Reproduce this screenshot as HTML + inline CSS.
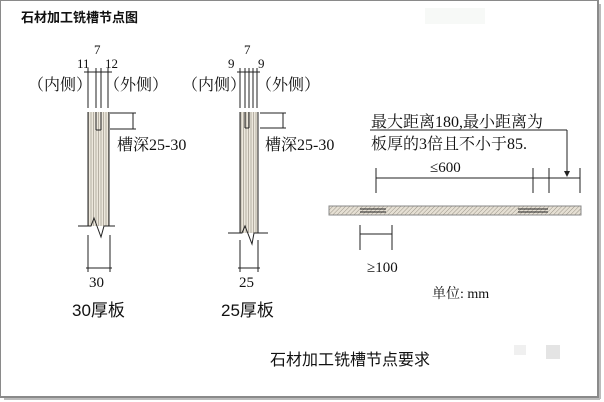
<!DOCTYPE html>
<html><head><meta charset="utf-8"><style>
html,body{margin:0;padding:0;background:#fff;width:604px;height:402px;overflow:hidden}
svg{display:block}
text{font-family:"Liberation Serif","Noto Serif CJK SC",serif;fill:#111}
.s{font-family:"Liberation Sans","Noto Sans CJK SC",sans-serif}
</style></head><body>
<svg width="604" height="402" viewBox="0 0 604 402">
<defs>
<pattern id="h" width="3" height="3" patternUnits="userSpaceOnUse" patternTransform="rotate(45)">
<rect width="3" height="3" fill="#e6e0d4"/><line x1="0" y1="0" x2="0" y2="3" stroke="#9a9488" stroke-width="1"/></pattern>
<pattern id="v" width="2.5" height="4" patternUnits="userSpaceOnUse">
<rect width="2.5" height="4" fill="#ece7dc"/><line x1="1" y1="0" x2="1" y2="4" stroke="#a8a296" stroke-width="0.8"/></pattern>
</defs>
<rect x="0" y="0" width="598" height="397" fill="#fff" stroke="#8a8a8a" stroke-width="2"/>
<line x1="600" y1="4" x2="600" y2="399" stroke="#bbb" stroke-width="2"/>
<line x1="4" y1="399" x2="600" y2="399" stroke="#bbb" stroke-width="2"/>
<text x="21" y="22" class="s" font-size="13" font-weight="bold" fill="#333">石材加工铣槽节点图</text>
<rect x="425" y="8" width="60" height="16" fill="#f7f9f7"/>

<g stroke="#222" stroke-width="1" fill="none">
<rect x="88" y="112" width="21" height="114" fill="url(#v)" stroke="none"/>
<line x1="88" y1="68" x2="88" y2="108"/><line x1="96" y1="68" x2="96" y2="108"/>
<line x1="101" y1="68" x2="101" y2="108"/><line x1="108" y1="68" x2="108" y2="108"/>
<line x1="84" y1="72" x2="112" y2="72"/>
<line x1="88" y1="112" x2="88" y2="226"/><line x1="109" y1="112" x2="109" y2="226"/>
<line x1="96" y1="112" x2="96" y2="130"/><line x1="101" y1="112" x2="101" y2="130"/><line x1="96" y1="130" x2="101" y2="130"/>
<polyline points="78,226 91,226 94,218 101,237 104,226 115,226"/>
<line x1="110" y1="113" x2="136" y2="113"/><line x1="110" y1="129" x2="136" y2="129"/><line x1="133" y1="113" x2="133" y2="129"/>
<line x1="88" y1="235" x2="88" y2="272"/><line x1="110" y1="235" x2="110" y2="272"/><line x1="86" y1="268" x2="112" y2="268"/>
<rect x="240" y="112" width="18" height="121" fill="url(#v)" stroke="none"/>
<line x1="240" y1="68" x2="240" y2="108"/><line x1="245" y1="68" x2="245" y2="108"/><line x1="249" y1="68" x2="249" y2="108"/>
<line x1="253" y1="68" x2="253" y2="108"/><line x1="257" y1="68" x2="257" y2="108"/>
<line x1="237" y1="72" x2="260" y2="72"/>
<line x1="240" y1="112" x2="240" y2="233"/><line x1="258" y1="112" x2="258" y2="233"/>
<line x1="245" y1="112" x2="245" y2="128"/><line x1="249" y1="112" x2="249" y2="128"/><line x1="245" y1="128" x2="249" y2="128"/>
<polyline points="228,233 242,233 245,226 252,244 254,233 268,233"/>
<line x1="260" y1="113" x2="286" y2="113"/><line x1="260" y1="128" x2="286" y2="128"/><line x1="283" y1="113" x2="283" y2="128"/>
<line x1="240" y1="240" x2="240" y2="272"/><line x1="258" y1="240" x2="258" y2="272"/><line x1="238" y1="268" x2="260" y2="268"/>
<line x1="370" y1="130" x2="567" y2="130"/><line x1="567" y1="130" x2="567" y2="175"/>
<line x1="376" y1="178" x2="580" y2="178"/>
<line x1="376" y1="168" x2="376" y2="193"/><line x1="533" y1="168" x2="533" y2="193"/>
<line x1="549" y1="168" x2="549" y2="193"/><line x1="580" y1="168" x2="580" y2="193"/>
<rect x="329" y="206" width="252" height="9" fill="url(#h)" stroke="#888"/>
<line x1="360" y1="209" x2="386" y2="209"/><line x1="360" y1="212" x2="386" y2="212"/>
<line x1="518" y1="209" x2="548" y2="209"/><line x1="518" y1="212" x2="548" y2="212"/>
<line x1="360" y1="225" x2="360" y2="250"/><line x1="392" y1="225" x2="392" y2="250"/><line x1="360" y1="234" x2="392" y2="234"/>
</g>
<polygon points="564,171 570,171 567,177" fill="#222"/>

<text x="77" y="68" font-size="13">11</text>
<text x="94" y="54" font-size="13">7</text>
<text x="105" y="68" font-size="13">12</text>
<text x="28" y="90" font-size="16">（内侧）</text>
<text x="104" y="90" font-size="16">（外侧）</text>
<text x="117" y="150" font-size="16">槽深25-30</text>
<text x="89" y="287" font-size="15">30</text>
<text x="72" y="316" class="s" font-size="17">30厚板</text>

<text x="228" y="68" font-size="13">9</text>
<text x="244" y="54" font-size="13">7</text>
<text x="258" y="68" font-size="13">9</text>
<text x="182" y="90" font-size="16">（内侧）</text>
<text x="256" y="90" font-size="16">（外侧）</text>
<text x="265" y="150" font-size="16">槽深25-30</text>
<text x="239" y="287" font-size="15">25</text>
<text x="221" y="316" class="s" font-size="17">25厚板</text>

<text x="371" y="127" font-size="16">最大距离180,最小距离为</text>
<text x="371" y="149" font-size="16">板厚的3倍且不小于85.</text>
<text x="430" y="172" font-size="15" fill="#444">≤600</text>
<text x="367" y="272" font-size="15" fill="#444">≥100</text>
<text x="432" y="298" font-size="14">单位: mm</text>
<text x="270" y="365" class="s" font-size="16">石材加工铣槽节点要求</text>
<rect x="514" y="345" width="12" height="10" fill="#f0f0f0"/><rect x="546" y="345" width="14" height="14" fill="#e4e4e4"/>
</svg>
</body></html>
